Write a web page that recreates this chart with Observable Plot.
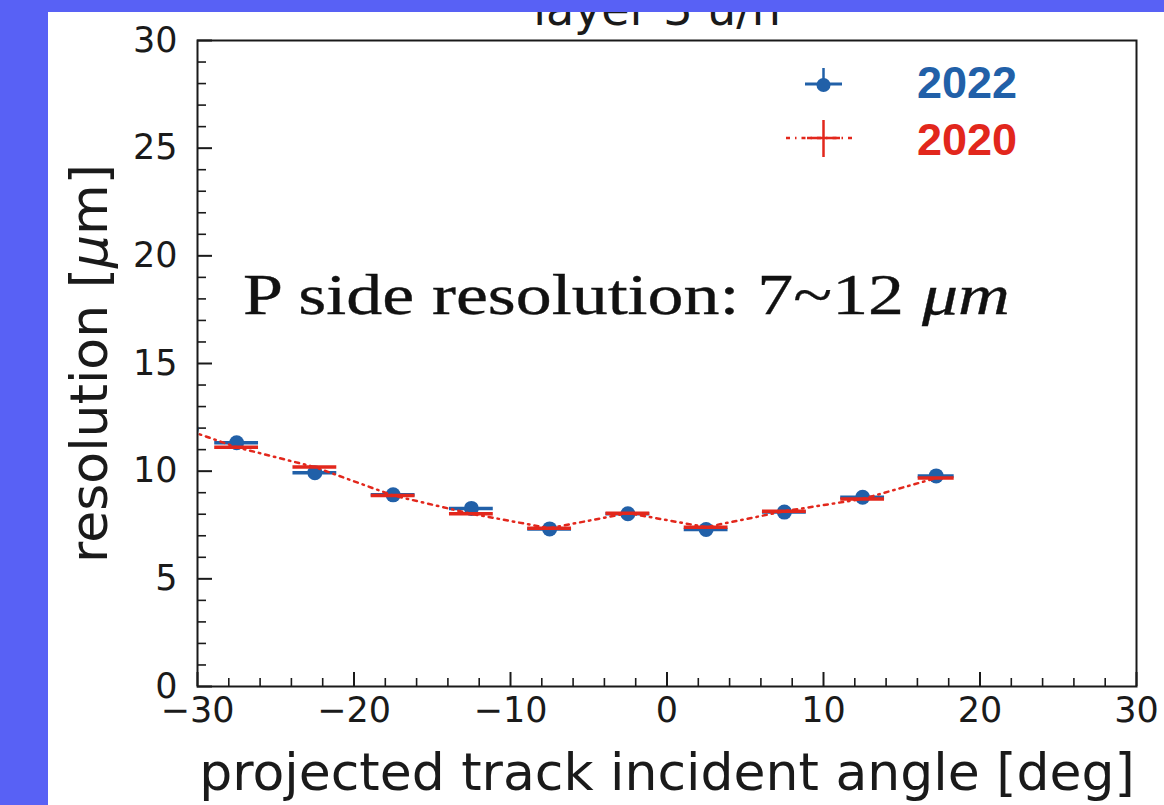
<!DOCTYPE html>
<html>
<head>
<meta charset="utf-8">
<script src="https://cdn.jsdelivr.net/npm/d3@7"></script>
<script src="https://cdn.jsdelivr.net/npm/@observablehq/plot@0.6"></script>
<style>
html, body { margin: 0; padding: 0; }
body { width: 1164px; height: 805px; background: #5861f5; overflow: hidden; position: relative; }
#panel { position: absolute; left: 48px; top: 12px; width: 1116px; height: 793px; background: #fff; overflow: hidden; }
#chart { position: absolute; left: 0; top: -12px; width: 1116px; height: 805px; }
#overlay { position: absolute; left: 0; top: 0; pointer-events: none; }
</style>
</head>
<body>
<div id="panel"><div id="chart"></div></div>
<script>
// ---- data ----
const angles   = [-30.4, -27.5, -22.5, -17.5, -12.5, -7.5, -2.5, 2.5, 7.5, 12.5, 17.2];
const halfBin  = [0, 1.4, 1.4, 1.4, 1.4, 1.4, 1.4, 1.4, 1.4, 1.4, 1.15];
const res2022  = [11.95, 11.32, 9.93, 8.9, 8.27, 7.32, 8.02, 7.29, 8.1, 8.79, 9.78];
const res2020  = [11.85, 11.11, 10.19, 8.87, 8.02, 7.35, 8.05, 7.4, 8.14, 8.71, 9.68];

const xMajor = [-30, -20, -10, 0, 10, 20, 30];
const xMinor = [-28, -26, -24, -22, -18, -16, -14, -12, -8, -6, -4, -2, 2, 4, 6, 8, 12, 14, 16, 18, 22, 24, 26, 28];
const yMajor = [0, 5, 10, 15, 20, 25, 30];
const yMinor = [1, 2, 3, 4, 6, 7, 8, 9, 11, 12, 13, 14, 16, 17, 18, 19, 21, 22, 23, 24, 26, 27, 28, 29];

const titleText = "layer 3 u/n";
const xLabel = "projected track incident angle [deg]";
const yLabel = "resolution [μm]";
const legendLabels = ["2022", "2020"];

const BLUE = "#2160a8";
const RED = "#e2271c";
const INK = "#1a1a1a";

const blue = angles.map((x, i) => ({x, y: res2022[i], xe: halfBin[i]}));
const red  = angles.map((x, i) => ({x, y: res2020[i], xe: halfBin[i]}));

const W = 1116, H = 805;
const mL = 149, mR = 28, mT = 40, mB = 119;
const plotW = W - mL - mR, plotH = H - mT - mB;
const fmt = d => d < 0 ? "\u2212" + Math.abs(d) : String(d);

const chart = Plot.plot({
  width: W, height: H,
  marginLeft: mL, marginRight: mR, marginTop: mT, marginBottom: mB,
  x: {domain: [-30, 30]},
  y: {domain: [0, 30]},
  style: {fontFamily: "DejaVu Sans", fontSize: "35px", color: INK, background: "white", overflow: "visible"},
  marks: [
    Plot.tickY(yMinor, {y: d => d, insetRight: plotW - 9, stroke: INK, strokeWidth: 1.6}),
    Plot.tickY(yMajor, {y: d => d, insetRight: plotW - 15, stroke: INK, strokeWidth: 2}),
    Plot.tickX(xMinor, {x: d => d, insetTop: plotH - 8, stroke: INK, strokeWidth: 1.6}),
    Plot.tickX(xMajor, {x: d => d, insetTop: plotH - 14, stroke: INK, strokeWidth: 2}),
    Plot.axisX({ticks: xMajor, tickSize: 0, tickPadding: 11, tickFormat: fmt, fontSize: 35, label: null}),
    Plot.axisY({ticks: yMajor, tickSize: 0, tickPadding: 20, fontSize: 35, label: null}),
    Plot.ruleY(blue, {x1: d => d.x - d.xe, x2: d => d.x + d.xe, y: "y", stroke: BLUE, strokeWidth: 3.5, clip: true}),
    Plot.dot(blue, {x: "x", y: "y", r: 7.5, fill: BLUE, clip: true}),
    Plot.ruleY(red, {x1: d => d.x - d.xe, x2: d => d.x + d.xe, y: "y", stroke: RED, strokeWidth: 3.5, clip: true}),
    Plot.line(red, {x: "x", y: "y", stroke: RED, strokeWidth: 2.5, strokeDasharray: "4,5,1.5,5", clip: true}),
    Plot.frame({stroke: INK, strokeWidth: 2}),
    Plot.text([titleText], {frameAnchor: "top", text: d => d, textAnchor: "middle", lineAnchor: "middle", dx: -10, dy: -30, fontSize: 46, fill: INK}),
    Plot.text([xLabel], {frameAnchor: "bottom", text: d => d, textAnchor: "middle", lineAnchor: "middle", dy: 87, fontSize: 52, fill: INK}),
    Plot.text([yLabel], {frameAnchor: "left", text: d => d, textAnchor: "middle", lineAnchor: "middle", rotate: -90, dx: -107, fontSize: 52, fill: INK})
  ]
});
document.getElementById("chart").appendChild(chart);

// italic mu in the y label (mathtext style)
chart.querySelectorAll("text").forEach(t => {
  if (t.textContent === yLabel) {
    const tgt = t.querySelector("tspan") || t;
    tgt.textContent = "";
    const parts = [["resolution [", null], ["μ", "italic"], ["m]", null]];
    parts.forEach(([s, st]) => {
      const ts = document.createElementNS("http://www.w3.org/2000/svg", "tspan");
      ts.textContent = s;
      if (st) ts.setAttribute("font-style", st);
      tgt.appendChild(ts);
    });
  }
});

// ---- legend and annotation overlay ----
const ov = d3.select("#chart").append("svg")
  .attr("id", "overlay").attr("width", W).attr("height", H);

// legend: 2022
const lg = ov.append("g");
lg.append("line").attr("x1", 757).attr("x2", 794).attr("y1", 84).attr("y2", 84)
  .attr("stroke", BLUE).attr("stroke-width", 3);
lg.append("line").attr("x1", 775.5).attr("x2", 775.5).attr("y1", 68).attr("y2", 84)
  .attr("stroke", BLUE).attr("stroke-width", 2.5);
lg.append("circle").attr("cx", 775.5).attr("cy", 85).attr("r", 7).attr("fill", BLUE);
lg.append("text").attr("x", 869).attr("y", 98).text(legendLabels[0])
  .attr("fill", BLUE).attr("font-family", "Liberation Sans").attr("font-weight", "bold").attr("font-size", 45);

// legend: 2020
lg.append("line").attr("x1", 738).attr("x2", 809).attr("y1", 138).attr("y2", 138)
  .attr("stroke", RED).attr("stroke-width", 2.5).attr("stroke-dasharray", "4,5,1.5,5");
lg.append("line").attr("x1", 759).attr("x2", 792).attr("y1", 138).attr("y2", 138)
  .attr("stroke", RED).attr("stroke-width", 2.5);
lg.append("line").attr("x1", 775.5).attr("x2", 775.5).attr("y1", 120).attr("y2", 157)
  .attr("stroke", RED).attr("stroke-width", 2.5);
lg.append("text").attr("x", 869).attr("y", 155).text(legendLabels[1])
  .attr("fill", RED).attr("font-family", "Liberation Sans").attr("font-weight", "bold").attr("font-size", 45);

// annotation
const ann = ov.append("text").attr("x", 195).attr("y", 314)
  .attr("font-family", "Liberation Serif").attr("font-size", 56).attr("fill", "#111")
  .attr("stroke", "#111").attr("stroke-width", 0.35)
  .attr("textLength", 767).attr("lengthAdjust", "spacingAndGlyphs");
ann.append("tspan").text("P side resolution: 7~12 ");
ann.append("tspan").attr("font-style", "italic").text("μm");
</script>
</body>
</html>
